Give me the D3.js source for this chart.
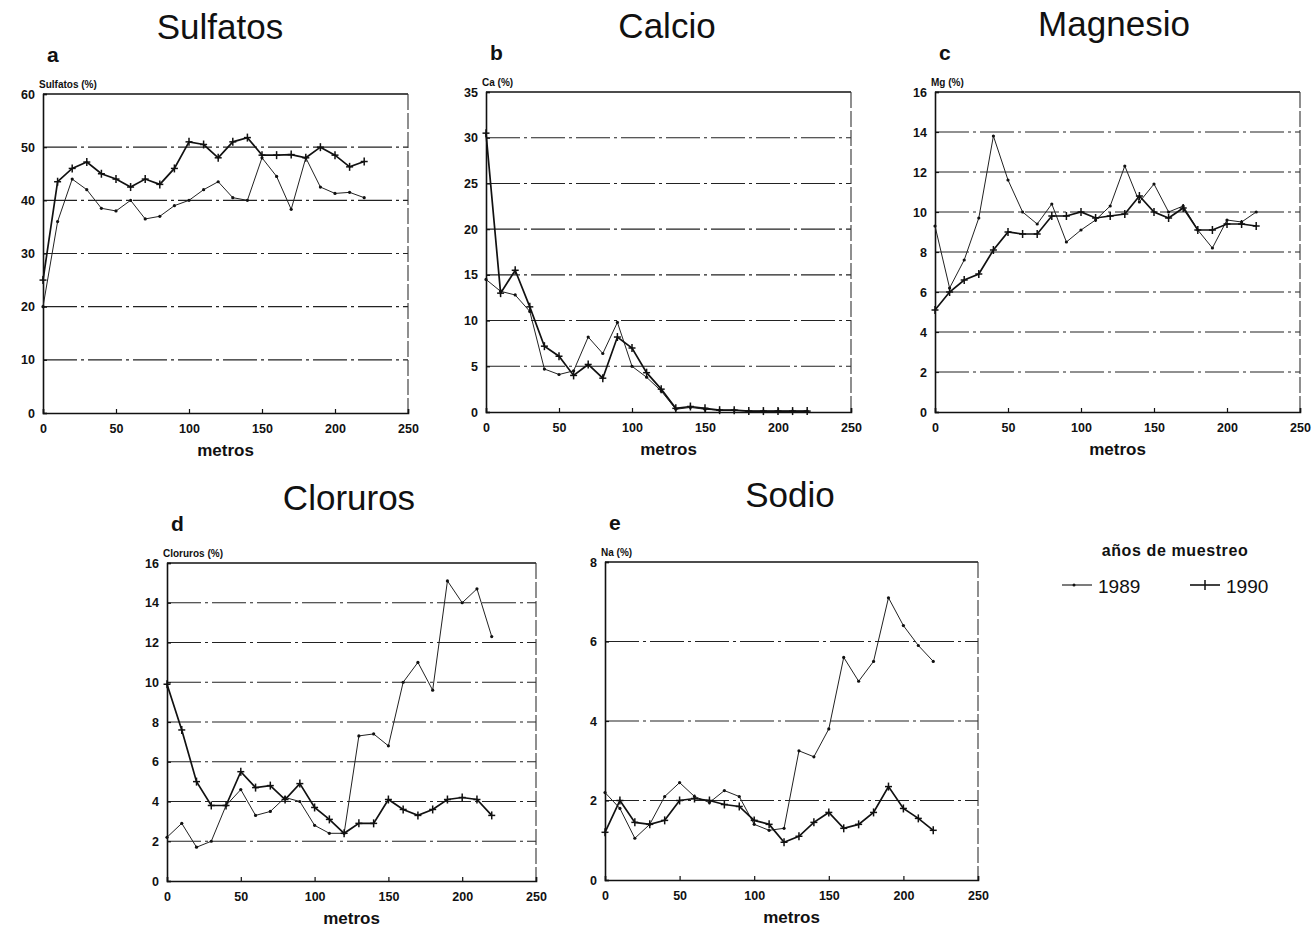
<!DOCTYPE html>
<html>
<head>
<meta charset="utf-8">
<script src="https://cdn.jsdelivr.net/npm/d3@7"></script>
<style>
  body { margin: 0; background: #fff; }
  svg text { font-family: "Liberation Sans", Arial, sans-serif; fill: #111; }
</style>
</head>
<body>
<div id="chart"></div>
<script>
// distances (m), shared by all panels
var metros = [0, 10, 20, 30, 40, 50, 60, 70, 80, 90, 100, 110, 120, 130, 140, 150, 160, 170, 180, 190, 200, 210, 220];

// a - Sulfatos (%)
var sulfatos1989 = [20, 36, 44, 42, 38.5, 38, 40, 36.5, 37, 39, 40, 42, 43.5, 40.5, 40, 48, 44.5, 38.3, 48, 42.5, 41.3, 41.5, 40.5];
var sulfatos1990 = [25, 43.5, 46, 47.2, 45, 44, 42.5, 44, 43, 46, 51, 50.5, 48, 51, 51.8, 48.5, 48.5, 48.6, 48, 50, 48.5, 46.3, 47.3];

// b - Calcio (%)
var calcio1989 = [14.5, 13.2, 12.8, 11, 4.7, 4.1, 4.5, 8.2, 6.4, 9.8, 5, 3.8, 2.3, 0.3, 0.5, 0.3, 0.2, 0.2, 0.1, 0.1, 0.1, 0.1, 0.1];
var calcio1990 = [30.5, 13, 15.5, 11.5, 7.2, 6.1, 4, 5.2, 3.7, 8.2, 7, 4.3, 2.5, 0.4, 0.6, 0.4, 0.2, 0.2, 0.1, 0.1, 0.1, 0.1, 0.1];

// c - Magnesio (%)
var magnesio1989 = [9.3, 6.2, 7.6, 9.7, 13.8, 11.6, 10, 9.4, 10.4, 8.5, 9.1, 9.6, 10.3, 12.3, 10.5, 11.4, 10, 10.3, 9.1, 8.2, 9.6, 9.5, 10];
var magnesio1990 = [5.1, 6, 6.6, 6.9, 8.1, 9, 8.9, 8.9, 9.8, 9.8, 10, 9.7, 9.8, 9.9, 10.8, 10, 9.7, 10.2, 9.1, 9.1, 9.4, 9.4, 9.3];

// d - Cloruros (%)
var cloruros1989 = [2.2, 2.9, 1.7, 2, 3.8, 4.6, 3.3, 3.5, 4.2, 4, 2.8, 2.4, 2.4, 7.3, 7.4, 6.8, 10, 11, 9.6, 15.1, 14, 14.7, 12.3];
var cloruros1990 = [9.9, 7.6, 5, 3.8, 3.8, 5.5, 4.7, 4.8, 4.1, 4.9, 3.7, 3.1, 2.4, 2.9, 2.9, 4.1, 3.6, 3.3, 3.6, 4.1, 4.2, 4.1, 3.3];

// e - Sodio (%)
var sodio1989 = [2.2, 1.8, 1.05, 1.4, 2.1, 2.45, 2.1, 1.95, 2.25, 2.1, 1.4, 1.25, 1.3, 3.25, 3.1, 3.8, 5.6, 5, 5.5, 7.1, 6.4, 5.9, 5.5];
var sodio1990 = [1.2, 2, 1.45, 1.4, 1.5, 2, 2.05, 2, 1.9, 1.85, 1.5, 1.4, 0.95, 1.1, 1.45, 1.7, 1.3, 1.4, 1.7, 2.35, 1.8, 1.55, 1.25];

var xTicks = [0, 50, 100, 150, 200, 250];
var anios = ["1989", "1990"];

var svg = d3.select("#chart").append("svg")
  .attr("width", 1315)
  .attr("height", 929);

// panel layout (pixel boxes) kept apart from the data
var panels = [
  { title: "Sulfatos", letter: "a", ylab: "Sulfatos (%)", ymax: 60, step: 10, s89: sulfatos1989, s90: sulfatos1990,
    box: { left: 43, right: 408, top: 94, bottom: 413 }, titleX: 220, titleY: 39 },
  { title: "Calcio", letter: "b", ylab: "Ca (%)", ymax: 35, step: 5, s89: calcio1989, s90: calcio1990,
    box: { left: 486, right: 851, top: 92, bottom: 412 }, titleX: 667, titleY: 38 },
  { title: "Magnesio", letter: "c", ylab: "Mg (%)", ymax: 16, step: 2, s89: magnesio1989, s90: magnesio1990,
    box: { left: 935, right: 1300, top: 92, bottom: 412 }, titleX: 1114, titleY: 36 },
  { title: "Cloruros", letter: "d", ylab: "Cloruros (%)", ymax: 16, step: 2, s89: cloruros1989, s90: cloruros1990,
    box: { left: 167, right: 536, top: 563, bottom: 881 }, titleX: 349, titleY: 510 },
  { title: "Sodio", letter: "e", ylab: "Na (%)", ymax: 8, step: 2, s89: sodio1989, s90: sodio1990,
    box: { left: 605, right: 978, top: 562, bottom: 880 }, titleX: 790, titleY: 507 }
];

panels.forEach(drawPanel);

function drawPanel(p) {
  var b = p.box;
  var x = d3.scaleLinear().domain([0, 250]).range([b.left, b.right]);
  var y = d3.scaleLinear().domain([0, p.ymax]).range([b.bottom, b.top]);
  var g = svg.append("g");

  // titles
  g.append("text").attr("x", p.titleX).attr("y", p.titleY)
    .attr("text-anchor", "middle").style("font-size", "35px")
    .text(p.title);
  g.append("text").attr("x", b.left + 4).attr("y", b.top - 32)
    .style("font-size", "21px").style("font-weight", "bold")
    .text(p.letter);
  g.append("text").attr("x", b.left - 4).attr("y", b.top - 6)
    .style("font-size", "10px").style("font-weight", "bold")
    .text(p.ylab);

  // horizontal grid lines (dash-dot like the original)
  var gy = d3.range(p.step, p.ymax, p.step);
  g.selectAll(".grid").data(gy).enter().append("line")
    .attr("x1", b.left).attr("x2", b.right)
    .attr("y1", function (d) { return y(d); })
    .attr("y2", function (d) { return y(d); })
    .attr("stroke", "#222").attr("stroke-width", 1.1)
    .attr("stroke-dasharray", "34,4,3,4");

  // frame: top solid, right dashed
  g.append("line").attr("x1", b.left).attr("x2", b.right).attr("y1", b.top).attr("y2", b.top)
    .attr("stroke", "#111").attr("stroke-width", 1.4);
  g.append("line").attr("x1", b.right).attr("x2", b.right).attr("y1", b.top).attr("y2", b.bottom)
    .attr("stroke", "#333").attr("stroke-width", 1.1).attr("stroke-dasharray", "16,3");

  // axes
  var yAxis = d3.axisLeft(y).tickValues(d3.range(0, p.ymax + 0.001, p.step))
    .tickSize(-4).tickPadding(8).tickFormat(d3.format("d"));
  var xAxis = d3.axisBottom(x).tickValues(xTicks)
    .tickSize(-4).tickPadding(11).tickFormat(d3.format("d"));

  var ya = g.append("g").attr("transform", "translate(" + b.left + ",0)").call(yAxis);
  var xa = g.append("g").attr("transform", "translate(0," + b.bottom + ")").call(xAxis);
  [ya, xa].forEach(function (a) {
    a.select(".domain").attr("stroke", "#111").attr("stroke-width", 1.6);
    a.selectAll(".tick line").attr("stroke", "#111").attr("stroke-width", 1.2);
    a.selectAll(".tick text").style("font-size", "12.5px").style("font-weight", "bold")
      .style("font-family", "\"Liberation Sans\", Arial, sans-serif").attr("fill", "#111");
  });

  g.append("text").attr("x", (b.left + b.right) / 2).attr("y", b.bottom + 43)
    .attr("text-anchor", "middle").style("font-size", "17px").style("font-weight", "bold")
    .text("metros");

  // series
  var line = d3.line()
    .x(function (d) { return x(d[0]); })
    .y(function (d) { return y(d[1]); });

  var d89 = metros.map(function (m, i) { return [m, p.s89[i]]; });
  var d90 = metros.map(function (m, i) { return [m, p.s90[i]]; });

  g.append("path").datum(d89).attr("d", line)
    .attr("fill", "none").attr("stroke", "#222").attr("stroke-width", 1);
  g.selectAll(".dot89").data(d89).enter().append("circle")
    .attr("cx", function (d) { return x(d[0]); })
    .attr("cy", function (d) { return y(d[1]); })
    .attr("r", 1.6).attr("fill", "#111");

  g.append("path").datum(d90).attr("d", line)
    .attr("fill", "none").attr("stroke", "#111").attr("stroke-width", 1.7);
  var plus = g.selectAll(".plus90").data(d90).enter().append("g")
    .attr("transform", function (d) { return "translate(" + x(d[0]) + "," + y(d[1]) + ")"; });
  plus.append("line").attr("x1", -3.5).attr("x2", 3.5).attr("stroke", "#111").attr("stroke-width", 1.5);
  plus.append("line").attr("y1", -4).attr("y2", 4).attr("stroke", "#111").attr("stroke-width", 1.5);
}

// legend
var leg = svg.append("g");
leg.append("text").attr("x", 1175).attr("y", 556).attr("text-anchor", "middle")
  .style("font-size", "16px").style("font-weight", "bold").style("letter-spacing", "0.6px")
  .text("años de muestreo");

var legX = d3.scalePoint().domain(anios).range([1062, 1190]);
anios.forEach(function (a) {
  var lx = legX(a);
  leg.append("line").attr("x1", lx).attr("x2", lx + 30).attr("y1", 585).attr("y2", 585)
    .attr("stroke", "#111").attr("stroke-width", a === "1990" ? 1.6 : 1.1);
  if (a === "1990") {
    leg.append("line").attr("x1", lx + 15).attr("x2", lx + 15).attr("y1", 580).attr("y2", 590)
      .attr("stroke", "#111").attr("stroke-width", 1.5);
  } else {
    leg.append("circle").attr("cx", lx + 12).attr("cy", 585).attr("r", 1.5).attr("fill", "#111");
  }
  leg.append("text").attr("x", lx + 36).attr("y", 593)
    .style("font-size", "19px").text(a);
});
</script>
</body>
</html>
